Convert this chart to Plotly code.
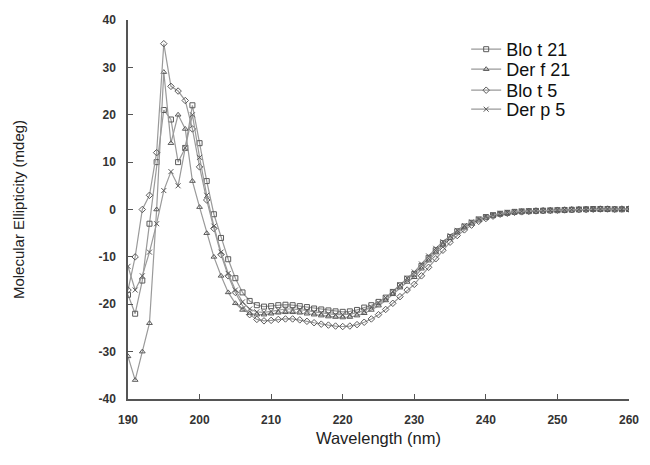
import plotly.graph_objects as go

wavelength = list(range(190, 261))

blo_t_21 = [-18, -22, -15, -3, 10, 21, 19, 10, 13, 22,
            14, 6, -1, -6, -10.5, -14.5, -17.5, -19.3, -20.2, -20.5,
            -20.4, -20.2, -20.1, -20.2, -20.4, -20.6, -20.9, -21.1, -21.3, -21.5,
            -21.6, -21.5, -21.2, -20.7, -20.2, -19.5, -18.6, -17.4, -16.0, -14.6,
            -13.6, -11.9, -10.2, -8.6, -7.1, -5.8, -4.6, -3.6, -2.8, -2.1,
            -1.6, -1.2, -0.9, -0.7, -0.5, -0.4, -0.35, -0.3, -0.25, -0.2,
            -0.15, -0.1, -0.05, 0.0, 0.05, 0.1, 0.1, 0.1, 0.05, 0.05, 0.1]

der_f_21 = [-31, -36, -30, -24, 0, 29, 14, 20, 17, 6,
            0.5, -5, -10, -14, -17.5, -19.8, -21.2, -21.9, -22.2, -22.2,
            -22.0, -21.8, -21.7, -21.7, -21.8, -22.0, -22.2, -22.4, -22.6, -22.7,
            -22.8, -22.7, -22.4, -21.9, -21.2, -20.3, -19.2, -17.9, -16.5, -15.3,
            -14.3, -12.5, -10.8, -9.1, -7.5, -6.1, -4.9, -3.8, -2.9, -2.2,
            -1.7, -1.3, -1.0, -0.8, -0.6, -0.5, -0.4, -0.3, -0.25, -0.2,
            -0.15, -0.1, -0.05, 0.0, 0.05, 0.05, 0.1, 0.1, 0.1, 0.05, 0.1]

blo_t_5 = [-17, -10, 0, 3, 12, 35, 26, 25, 23, 17,
           9, 2, -4, -9.5, -14, -17.5, -20.3, -22.2, -23.2, -23.5,
           -23.4, -23.2, -23.1, -23.1, -23.3, -23.6, -23.9, -24.2, -24.4, -24.6,
           -24.7, -24.6, -24.3, -23.8, -23.1, -22.2, -21.1, -19.8, -18.4, -17.0,
           -15.8, -14.0, -12.2, -10.4, -8.6, -6.9, -5.5, -4.3, -3.3, -2.5,
           -1.9, -1.4, -1.0, -0.8, -0.6, -0.5, -0.4, -0.3, -0.25, -0.2,
           -0.15, -0.1, -0.05, 0.0, 0.0, 0.05, 0.1, 0.1, 0.05, 0.1, 0.1]

der_p_5 = [-12, -17, -14, -9, -3, 4, 8, 5, 13, 20,
           11, 3, -3.5, -9, -13.5, -17, -19.5, -21, -21.6, -21.7,
           -21.5, -21.2, -21.0, -21.0, -21.1, -21.3, -21.6, -21.8, -22.0, -22.2,
           -22.2, -22.1, -21.8, -21.3, -20.6, -19.7, -18.6, -17.3, -15.9, -14.5,
           -13.2, -11.5, -9.8, -8.2, -6.8, -5.5, -4.4, -3.4, -2.6, -2.0,
           -1.5, -1.1, -0.8, -0.6, -0.45, -0.35, -0.3, -0.25, -0.2, -0.15,
           -0.1, -0.05, 0.0, 0.05, 0.05, 0.1, 0.1, 0.1, 0.1, 0.05, 0.1]

series_names = ["Blo t 21", "Der f 21", "Blo t 5", "Der p 5"]
series_values = [blo_t_21, der_f_21, blo_t_5, der_p_5]
series_symbols = ["square-open", "triangle-up-open", "diamond-open", "x-thin-open"]

x_ticks = [190, 200, 210, 220, 230, 240, 250, 260]
y_ticks = [-40, -30, -20, -10, 0, 10, 20, 30, 40]

FONT = "Liberation Sans, Arial, sans-serif"

fig = go.Figure()
legend_ids = ["legend", "legend2", "legend3", "legend4"]
for name, vals, sym, lid in zip(series_names, series_values, series_symbols, legend_ids):
    fig.add_trace(go.Scatter(
        x=wavelength, y=vals, name=name, mode="lines+markers",
        line=dict(color="#9a9a9a", width=1.2),
        marker=dict(symbol=sym, size=5, color="#5a5a5a",
                    line=dict(color="#5a5a5a", width=1)),
        legend=lid,
    ))

axis_common = dict(
    showgrid=False, zeroline=False, showline=True,
    linecolor="#555555", linewidth=1.5,
    ticks="inside", ticklen=5, tickcolor="#555555", tickwidth=1.2,
    tickfont=dict(family=FONT, size=12, color="#333333", weight="bold"),
)

legend_common = dict(xanchor="left", yanchor="top", x=0.675,
                     font=dict(family=FONT, size=18, color="#111111"),
                     bgcolor="rgba(0,0,0,0)", itemwidth=30)

# row centres (px): 49, 69, 90, 109 -> legend tops approx centre - 18
def top_paper(center_px):
    return 1 - (center_px - 18 - 20) / 379

fig.update_layout(
    width=650, height=465,
    margin=dict(l=128, r=11, t=20, b=66),
    paper_bgcolor="white", plot_bgcolor="white",
    font=dict(family=FONT, color="#222222"),
    xaxis=dict(range=[190, 260], tickvals=x_ticks,
               ticktext=[str(v) for v in x_ticks],
               title=dict(text="Wavelength (nm)", font=dict(size=16.5, color="#222222"), standoff=6),
               ticklabelstandoff=9, **axis_common),
    yaxis=dict(range=[-40, 40], tickvals=y_ticks,
               ticktext=[str(v) for v in y_ticks],
               title=dict(text="Molecular Ellipticity (mdeg)", font=dict(size=15, color="#222222"), standoff=70),
               ticklabelstandoff=8, **axis_common),
    legend=dict(y=top_paper(49), **legend_common),
    legend2=dict(y=top_paper(69), **legend_common),
    legend3=dict(y=top_paper(90), **legend_common),
    legend4=dict(y=top_paper(109), **legend_common),
    showlegend=True,
)

fig.write_html("out.html")
